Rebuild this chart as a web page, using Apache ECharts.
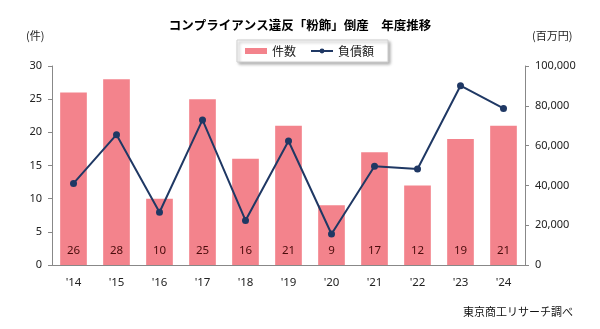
<!DOCTYPE html>
<html><head><meta charset="utf-8">
<script src="https://cdn.jsdelivr.net/npm/echarts@6/dist/echarts.min.js"></script>
<style>html,body{margin:0;padding:0;background:#fff}#c{width:600px;height:329px}</style>
</head><body><div id="c"></div>
<script>
const categories = ["'14","'15","'16","'17","'18","'19","'20","'21","'22","'23","'24"];
const counts = [26, 28, 10, 25, 16, 21, 9, 17, 12, 19, 21];
const debts = [41000, 65500, 26500, 72900, 22400, 62300, 15600, 49600, 48200, 90100, 78700];
const leftTicks = {min: 0, max: 30, interval: 5};
const rightTicks = {min: 0, max: 100000, interval: 20000};
const titleText = 'コンプライアンス違反「粉飾」倒産　年度推移';
const seriesNames = ['件数', '負債額'];

const chart = echarts.init(document.getElementById('c'), null, {renderer: 'canvas'});
const numFont = '"Noto Sans", sans-serif';
const jpFont = '"Noto Sans CJK JP", sans-serif';
chart.setOption({
  animation: false,
  backgroundColor: '#fff',
  title: {
    text: titleText, left: 'center', top: 14,
    textStyle: {fontFamily: jpFont, fontSize: 12.5, fontWeight: 'bold', color: '#000'}
  },
  legend: {
    left: 237, top: 40,
    backgroundColor: '#fff', borderColor: '#cfcfcf', borderWidth: 1,
    shadowColor: 'rgba(0,0,0,0.35)', shadowBlur: 3, shadowOffsetX: 2, shadowOffsetY: 2,
    padding: [5, 14, 5, 8], itemGap: 14, itemWidth: 22, itemHeight: 6,
    textStyle: {fontFamily: jpFont, fontSize: 12, color: '#222'},
    data: [{name: seriesNames[0], icon: 'rect'}, {name: seriesNames[1]}]
  },
  grid: {left: 52, right: 75, top: 66, bottom: 64},
  xAxis: {
    type: 'category', data: categories,
    axisLine: {lineStyle: {color: '#888'}},
    axisTick: {show: false},
    axisLabel: {fontFamily: numFont, fontSize: 11.5, color: '#222', margin: 12}
  },
  yAxis: [{
    type: 'value', min: leftTicks.min, max: leftTicks.max, interval: leftTicks.interval,
    axisLine: {show: true, lineStyle: {color: '#888'}},
    axisTick: {show: true, length: 4, lineStyle: {color: '#888'}},
    splitLine: {show: false},
    axisLabel: {fontFamily: numFont, fontSize: 11, color: '#222', margin: 10}
  }, {
    type: 'value', min: rightTicks.min, max: rightTicks.max, interval: rightTicks.interval,
    axisLine: {show: true, lineStyle: {color: '#888'}},
    axisTick: {show: true, length: 4, lineStyle: {color: '#888'}},
    splitLine: {show: false},
    axisLabel: {fontFamily: numFont, fontSize: 11, color: '#222', margin: 10,
      formatter: v => v.toLocaleString('en-US')}
  }],
  graphic: [
    {type: 'text', left: 26, top: 30, style: {text: '(件)', font: '11px ' + jpFont, fill: '#222'}},
    {type: 'text', left: 532, top: 30, style: {text: '(百万円)', font: '11px ' + jpFont, fill: '#222'}},
    {type: 'text', right: 27, top: 306, style: {text: '東京商工リサーチ調べ', font: '11px ' + jpFont, fill: '#111'}}
  ],
  series: [{
    name: seriesNames[0], type: 'bar', data: counts, yAxisIndex: 0,
    barWidth: '62%',
    itemStyle: {color: '#F3838C'},
    label: {show: true, position: 'insideBottom', distance: 8,
      fontFamily: numFont, fontSize: 11.5, color: '#4a0c0c'}
  }, {
    name: seriesNames[1], type: 'line', data: debts, yAxisIndex: 1,
    symbol: 'circle', symbolSize: 7,
    lineStyle: {color: '#1F3864', width: 2},
    itemStyle: {color: '#1F3864'}
  }]
});
</script></body></html>
